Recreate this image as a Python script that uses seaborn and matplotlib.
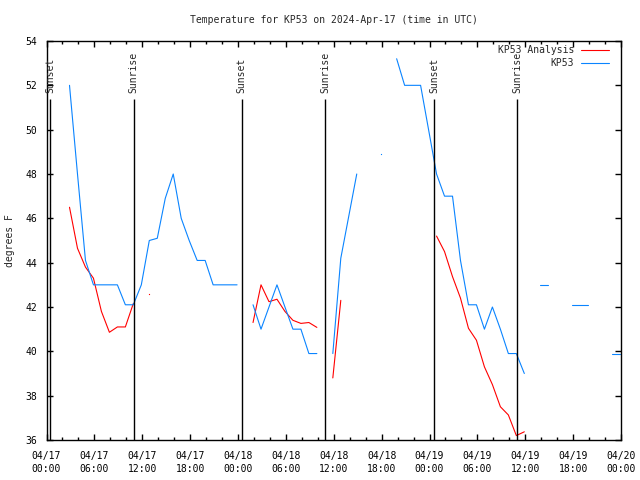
import numpy as np
import pandas as pd
import matplotlib
matplotlib.use("Agg")
import matplotlib.pyplot as plt
import matplotlib.dates as mdates
import seaborn as sns

nan = np.nan

# hourly readings, taken at :53 past each hour, starting 2024-04-17 00:53 UTC
start = "2024-04-17 00:53"
kp53 = [nan, nan, 52.0, 48.0, 44.1, 43.0, 43.0, 43.0, 43.0, 42.1, 42.1, 43.0,
        45.0, 45.1, 46.9, 48.0, 46.0, 45.0, 44.1, 44.1, 43.0, 43.0, 43.0, 43.0,
        nan, 42.1, 41.0, 42.0, 43.0, 42.0, 41.0, 41.0, 39.9, 39.9, nan, 39.9,
        44.2, 46.1, 48.0, nan, nan, 48.9, nan, 53.2, 52.0, 52.0, 52.0, 50.0,
        48.0, 47.0, 47.0, 44.1, 42.1, 42.1, 41.0, 42.0, 41.0, 39.9, 39.9, 39.0,
        nan, 43.0, 43.0, nan, nan, 42.1, 42.1, 42.1, nan, nan, 39.9, 39.9]
kp53_analysis = [nan, nan, 46.5, 44.65, 43.8, 43.3, 41.8, 40.86, 41.1, 41.1, 42.16, nan,
                 42.6, nan, nan, nan, nan, nan, nan, nan, nan, nan, nan, nan,
                 nan, 41.3, 43.0, 42.24, 42.35, 41.8, 41.4, 41.26, 41.3, 41.08, nan, 38.8,
                 42.3, nan, nan, nan, nan, nan, nan, nan, nan, nan, nan, nan,
                 45.2, 44.5, 43.37, 42.4, 41.04, 40.5, 39.3, 38.5, 37.5, 37.13, 36.2, 36.37,
                 nan, nan, nan, nan, nan, nan, nan, nan, nan, nan, nan, nan]

sunsets = ["2024-04-17 00:27", "2024-04-18 00:29", "2024-04-19 00:35"]
sunrises = ["2024-04-17 10:56", "2024-04-18 10:55", "2024-04-19 10:58"]

times = pd.date_range(start, periods=len(kp53), freq="h")
df = pd.DataFrame({"time": times, "KP53": kp53, "KP53 Analysis": kp53_analysis})

sns.set_theme(style="ticks")
plt.rcParams["font.family"] = ["DejaVu Sans Mono"]
plt.rcParams["font.size"] = 7
plt.rcParams["axes.linewidth"] = 1.0
plt.rcParams["axes.edgecolor"] = "black"
for a in ("xtick", "ytick"):
    plt.rcParams[a + ".direction"] = "in"
    plt.rcParams[a + ".color"] = "black"
    plt.rcParams[a + ".labelsize"] = 7
plt.rcParams["xtick.top"] = True
plt.rcParams["ytick.right"] = True

fig = plt.figure(figsize=(6.4, 4.8), dpi=100)
ax = fig.add_axes([46.5 / 640, 40 / 480, 574.5 / 640, 399 / 480])

colors = {"KP53 Analysis": "#ff0000", "KP53": "#0a84ff"}
for name in ["KP53 Analysis", "KP53"]:
    s = df[["time", name]]
    seg_id = s[name].isna().cumsum()
    s = s[s[name].notna()]
    first = True
    for _, seg in s.groupby(seg_id[s.index]):
        if len(seg) > 1:
            sns.lineplot(data=seg, x="time", y=name, ax=ax, color=colors[name],
                         lw=0.8, estimator=None, sort=False,
                         label=name if first else None)
            first = False
        else:
            # lone reading: gnuplot leaves just a dot
            ax.plot(seg["time"], seg[name], ls="none", marker="s", ms=0.8,
                    mew=0, color=colors[name])

for lab, ev in [("Sunset", sunsets), ("Sunrise", sunrises)]:
    for t in pd.to_datetime(ev):
        ax.vlines(t, 36, 51.4, color="black", lw=1.0)
        ax.text(t, 51.65, lab, rotation=90, ha="center", va="bottom", fontsize=7)

ax.set_xlim(pd.Timestamp("2024-04-17 00:00"), pd.Timestamp("2024-04-20 00:00"))
ax.set_ylim(36, 54)
ax.set_yticks(np.arange(36, 55, 2))
ax.xaxis.set_major_locator(mdates.HourLocator(byhour=[0, 6, 12, 18]))
ax.xaxis.set_minor_locator(mdates.HourLocator(interval=2))
ax.xaxis.set_major_formatter(mdates.DateFormatter("%m/%d\n%H:%M"))
ax.tick_params(which="major", length=4, width=1, pad=7)
ax.tick_params(which="minor", length=2, width=1)
ax.tick_params(axis="x", which="major", pad=8)
for lbl in ax.get_xticklabels():
    lbl.set_linespacing(1.3)

ax.set_xlabel("")
ax.set_ylabel("degrees F", fontsize=7, labelpad=7)
ax.set_title("Temperature for KP53 on 2024-Apr-17 (time in UTC)", fontsize=7, pad=13)

leg = ax.legend(loc="upper right", bbox_to_anchor=(0.979, 0.99), frameon=False,
                markerfirst=False, handlelength=2.9, handletextpad=0.7,
                borderpad=0, borderaxespad=0, labelspacing=0.35, fontsize=7)

fig.savefig("out.png", dpi=100)
